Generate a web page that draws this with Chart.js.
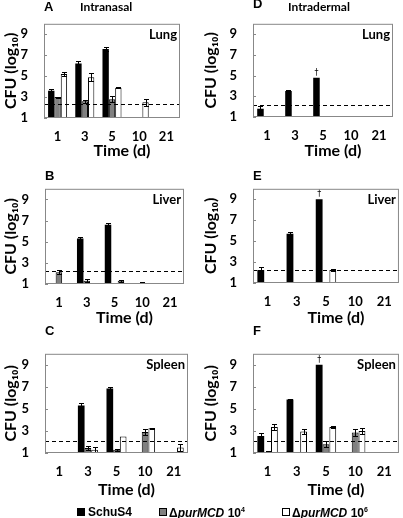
<!DOCTYPE html>
<html><head><meta charset="utf-8">
<script src="https://cdn.jsdelivr.net/npm/chart.js@4.4.1/dist/chart.umd.min.js"></script>
<style>
html,body{margin:0;padding:0;background:#fff}
body{width:403px;height:518px;position:relative;overflow:hidden}
canvas{position:absolute}
.t{position:absolute;font-weight:bold;white-space:nowrap;color:#000;line-height:1}
.lt{font-family:'Liberation Sans',Arial,sans-serif;font-size:12px}
.pl{font-family:'Liberation Sans',Arial,sans-serif;font-size:13px}
.rt{font-family:Lato,'Liberation Sans',sans-serif;font-size:12px}
.sw{position:absolute;width:6px;height:6px;border:1px solid #000}
</style></head><body>
<canvas id="cA" width="190" height="165" style="left:0;top:0"></canvas>
<canvas id="cB" width="190" height="167" style="left:0;top:165px"></canvas>
<canvas id="cC" width="195" height="174" style="left:0;top:330px"></canvas>
<canvas id="cD" width="203" height="165" style="left:200px;top:0"></canvas>
<canvas id="cE" width="203" height="167" style="left:200px;top:165px"></canvas>
<canvas id="cF" width="203" height="174" style="left:200px;top:330px"></canvas>

<div class="t pl" style="left:44px;top:0px">A</div>
<div class="t rt" style="left:80px;top:1px">Intranasal</div>
<div class="t pl" style="left:253px;top:-3px">D</div>
<div class="t rt" style="left:288px;top:1px">Intradermal</div>
<div class="t pl" style="left:45px;top:169px">B</div>
<div class="t pl" style="left:253px;top:169px">E</div>
<div class="t pl" style="left:45px;top:324px">C</div>
<div class="t pl" style="left:253px;top:324px">F</div>

<div class="sw" style="left:77px;top:508px;background:#000"></div>
<div class="t lt" style="left:88px;top:506px">SchuS4</div>
<div class="sw" style="left:159px;top:508px;background:#808080"></div>
<div class="t lt" style="left:169px;top:506px">Δ<i>purMCD</i> 10<sup style="font-size:7px;vertical-align:5px">4</sup></div>
<div class="sw" style="left:282px;top:508px;background:#fff"></div>
<div class="t lt" style="left:292px;top:506px">Δ<i>purMCD</i> 10<sup style="font-size:7px;vertical-align:5px">6</sup></div>

<script>
// ---------- data ----------
const days = ['1', '3', '5', '10', '21'];
const yTicks = [1, 3, 5, 7, 9];
const yTitle = 'CFU (log\u2081\u2080)';
const xTitle = 'Time (d)';
const seriesNames = ['SchuS4', '\u0394purMCD 10^4', '\u0394purMCD 10^6'];

// A: intranasal, lung
const aSchu = [3.6, 6.2, 7.6, null, null];
const aSchuErr = [0.2, 0.2, 0.2, 0, 0];
const aP4 = [3.0, 2.6, 2.8, null, null];
const aP4Err = [0.05, 0.15, 0.3, 0, 0];
const aP6 = [5.2, 4.9, 3.9, 2.5, null];
const aP6Err = [0.2, 0.4, 0.05, 0.35, 0];
const aLimit = 2.3;

// B: intranasal, liver
const bSchu = [null, 5.3, 6.6, null, null];
const bSchuErr = [0, 0.15, 0.2, 0, 0];
const bP4 = [2.1, 1.3, null, 1.1, null];
const bP4Err = [0.2, 0.15, 0, 0.05, 0];
const bP6 = [null, null, 1.3, null, null];
const bP6Err = [0, 0, 0.1, 0, 0];
const bLimit = 2.2;

// C: intranasal, spleen
const cSchu = [null, 5.3, 6.85, null, null];
const cSchuErr = [0, 0.2, 0.15, 0, 0];
const cP4 = [1.05, 1.45, 1.3, 2.9, 1.1];
const cP4Err = [0, 0.2, 0.1, 0.3, 0];
const cP6 = [null, 1.3, 2.5, 3.25, 1.5];
const cP6Err = [0, 0.2, 0, 0.05, 0.3];
const cLimit = 2.1;

// D: intradermal, lung
const dSchu = [1.8, 3.5, 4.8, null, null];
const dSchuErr = [0.25, 0.1, 0, 0, 0];
const dP4 = [null, null, null, null, null];
const dP4Err = [0, 0, 0, 0, 0];
const dP6 = [null, null, 1.1, null, null];
const dP6Err = [0, 0, 0, 0, 0];
const dDeath = [false, false, true, false, false];
const dLimit = 2.15;

// E: intradermal, liver
const eSchu = [2.25, 5.7, 9.0, null, null];
const eSchuErr = [0.25, 0.15, 0, 0, 0];
const eP4 = [null, null, null, null, null];
const eP4Err = [0, 0, 0, 0, 0];
const eP6 = [1.05, null, 2.25, null, null];
const eP6Err = [0, 0, 0.1, 0, 0];
const eDeath = [false, false, true, false, false];
const eLimit = 2.2;

// F: intradermal, spleen
const fSchu = [2.55, 5.85, 9.0, null, null];
const fSchuErr = [0.25, 0.05, 0, 0, 0];
const fP4 = [1.1, null, 1.8, 2.85, null];
const fP4Err = [0.05, 0, 0.3, 0.3, 0];
const fP6 = [3.35, 2.95, 3.35, 3.0, null];
const fP6Err = [0.25, 0.2, 0.1, 0.25, 0];
const fDeath = [false, false, true, false, false];
const fLimit = 2.1;

const noDeath = [false, false, false, false, false];

// ---------- drawing ----------
const tickFont = {family: 'Lato, "Liberation Sans", sans-serif', size: 13, weight: 'bold'};
const titleFont = {family: 'Lato, "Liberation Sans", sans-serif', size: 16, weight: 'bold'};

const decor = {
  id: 'decor',
  afterDatasetsDraw(chart, args, opts) {
    const {ctx, chartArea: a, scales: {y}} = chart;
    ctx.save();
    chart.data.datasets.forEach((ds, i) => {
      const meta = chart.getDatasetMeta(i);
      ds.data.forEach((v, j) => {
        if (v == null) return;
        const el = meta.data[j];
        const e = ds.err[j] || 0;
        const cx = Math.round(el.x) + 0.5;
        ctx.strokeStyle = '#000';
        ctx.lineWidth = 1;
        if (e > 0) {
          const t = Math.round(y.getPixelForValue(v + e)) + 0.5;
          const b = Math.round(y.getPixelForValue(Math.max(1, v - e))) + 0.5;
          ctx.beginPath();
          ctx.moveTo(cx, t); ctx.lineTo(cx, b);
          ctx.moveTo(cx - 2.5, t); ctx.lineTo(cx + 2.5, t);
          ctx.moveTo(cx - 2.5, b); ctx.lineTo(cx + 2.5, b);
          ctx.stroke();
        }
        if (ds.death && ds.death[j]) {
          ctx.fillStyle = '#000';
          ctx.font = '8px "DejaVu Sans", sans-serif';
          ctx.textAlign = 'center';
          ctx.textBaseline = 'bottom';
          ctx.fillText('\u2020', el.x, y.getPixelForValue(v + e) - 1);
        }
      });
    });
    const ly = Math.round(y.getPixelForValue(opts.limit)) + 0.5;
    ctx.setLineDash([4, 3]);
    ctx.strokeStyle = '#000';
    ctx.lineWidth = 1;
    ctx.beginPath();
    ctx.moveTo(a.left, ly); ctx.lineTo(a.right, ly);
    ctx.stroke();
    ctx.setLineDash([]);
    ctx.strokeStyle = '#888';
    ctx.strokeRect(a.left + 0.5, a.top + 0.5, a.right - a.left - 1, a.bottom - a.top - 1);
    ctx.beginPath();
    yTicks.forEach(v => {
      const p = Math.round(y.getPixelForValue(v)) + 0.5;
      ctx.moveTo(a.left, p); ctx.lineTo(a.left + 3, p);
    });
    ctx.stroke();
    ctx.fillStyle = '#000';
    ctx.font = 'bold 13px Lato, "Liberation Sans", sans-serif';
    ctx.textAlign = 'right';
    ctx.textBaseline = 'middle';
    ctx.fillText(opts.organ, a.right - 3, a.top + 11);
    ctx.font = 'bold 16px Lato, "Liberation Sans", sans-serif';
    ctx.textAlign = 'center';
    ctx.fillText(xTitle, (a.left + a.right) / 2 + 10, chart.height - 14);
    ctx.restore();
  }
};

function panel(id, s, p4, p6, sErr, p4Err, p6Err, death, limit, organ, box) {
  const canvas = document.getElementById(id);
  const W = canvas.width, H = canvas.height;
  new Chart(canvas, {
    type: 'bar',
    data: {
      labels: days,
      datasets: [
        {label: seriesNames[0], data: s, err: sErr, death: death, backgroundColor: '#000', borderWidth: 0},
        {label: seriesNames[1], data: p4, err: p4Err, backgroundColor: '#808080', borderColor: '#000', borderWidth: 1},
        {label: seriesNames[2], data: p6, err: p6Err, backgroundColor: '#fff', borderColor: '#000', borderWidth: 1}
      ]
    },
    options: {
      responsive: false,
      animation: false,
      devicePixelRatio: 1,
      layout: {padding: {left: 0, top: box.top, right: W - box.right, bottom: 0}},
      datasets: {bar: {categoryPercentage: 0.7, barPercentage: 1}},
      plugins: {legend: {display: false}, tooltip: {enabled: false}, decor: {limit, organ}},
      scales: {
        x: {
          grid: {display: false, drawTicks: false},
          border: {display: false},
          ticks: {font: tickFont, color: '#000', padding: 11, maxRotation: 0},
          afterFit: sc => { sc.height = H - box.bottom; }
        },
        y: {
          min: 1, max: 10,
          grid: {display: false, drawTicks: false},
          border: {display: false},
          ticks: {font: tickFont, color: '#000', padding: 16},
          afterBuildTicks: sc => { sc.ticks = yTicks.map(v => ({value: v})); },
          afterFit: sc => { sc.width = box.left; },
          title: {display: true, text: yTitle, font: titleFont, color: '#000', padding: {top: 1, bottom: 0}}
        }
      }
    },
    plugins: [decor]
  });
}

panel('cA', aSchu, aP4, aP6, aSchuErr, aP4Err, aP6Err, noDeath, aLimit, 'Lung',   {left: 44, top: 15, right: 180, bottom: 118});
panel('cB', bSchu, bP4, bP6, bSchuErr, bP4Err, bP6Err, noDeath, bLimit, 'Liver',  {left: 45, top: 18, right: 184, bottom: 119});
panel('cC', cSchu, cP4, cP6, cSchuErr, cP4Err, cP6Err, noDeath, cLimit, 'Spleen', {left: 45, top: 15, right: 188, bottom: 123});
panel('cD', dSchu, dP4, dP6, dSchuErr, dP4Err, dP6Err, dDeath, dLimit, 'Lung',    {left: 53, top: 15, right: 193, bottom: 117});
panel('cE', eSchu, eP4, eP6, eSchuErr, eP4Err, eP6Err, eDeath, eLimit, 'Liver',   {left: 53, top: 18, right: 202, bottom: 118});
panel('cF', fSchu, fP4, fP6, fSchuErr, fP4Err, fP6Err, fDeath, fLimit, 'Spleen',  {left: 53, top: 15, right: 202, bottom: 123});
</script>
</body></html>
